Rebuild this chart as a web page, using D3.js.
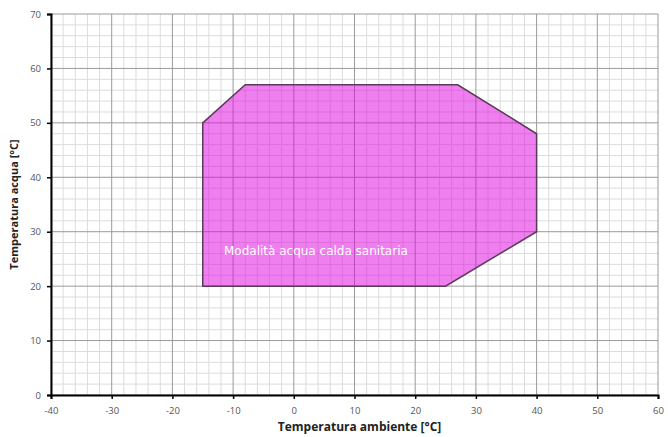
<!DOCTYPE html>
<html>
<head>
<meta charset="utf-8">
<script src="https://cdn.jsdelivr.net/npm/d3@7"></script>
<style>
  body { margin: 0; background: #fff; }
  text { font-family: "Open Sans", "Liberation Sans", Arial, sans-serif; }
</style>
</head>
<body>
<div id="chart"></div>
<script>
// operating envelope (ambient temp, water temp)
const envelopeX = [-15, -15, -8, 27, 40, 40, 25];
const envelopeY = [20, 50, 57, 57, 48, 30, 20];
const areaLabel = "Modalità acqua calda sanitaria";
const labelPos = [-11.5, 26.5];

const xTicks = [-40, -30, -20, -10, 0, 10, 20, 30, 40, 50, 60];
const yTicks = [0, 10, 20, 30, 40, 50, 60, 70];
const xTitle = "Temperatura ambiente [°C]";
const yTitle = "Temperatura acqua [°C]";

const width = 668, height = 437;
const margin = { top: 14, right: 10, bottom: 42, left: 51 };
const w = width - margin.left - margin.right;
const h = height - margin.top - margin.bottom;

const svg = d3.select("#chart").append("svg")
    .attr("width", width)
    .attr("height", height);

const g = svg.append("g")
    .attr("transform", `translate(${margin.left},${margin.top})`);

const x = d3.scaleLinear().domain([-40, 60]).range([0, w]);
const y = d3.scaleLinear().domain([0, 70]).range([h, 0]);

// minor grid every 2 units
const xMinor = d3.range(-40, 61, 2).filter(v => v % 10 !== 0);
const yMinor = d3.range(0, 71, 2).filter(v => v % 10 !== 0);

g.append("g").selectAll("line").data(xMinor).join("line")
    .attr("x1", d => x(d)).attr("x2", d => x(d))
    .attr("y1", 0).attr("y2", h)
    .attr("stroke", "#dcdcdc").attr("stroke-width", 1);
g.append("g").selectAll("line").data(yMinor).join("line")
    .attr("x1", 0).attr("x2", w)
    .attr("y1", d => y(d)).attr("y2", d => y(d))
    .attr("stroke", "#dcdcdc").attr("stroke-width", 1);

// major grid
g.append("g").selectAll("line").data(xTicks).join("line")
    .attr("x1", d => x(d)).attr("x2", d => x(d))
    .attr("y1", 0).attr("y2", h)
    .attr("stroke", "#9a9a9a").attr("stroke-width", 1);
g.append("g").selectAll("line").data(yTicks).join("line")
    .attr("x1", 0).attr("x2", w)
    .attr("y1", d => y(d)).attr("y2", d => y(d))
    .attr("stroke", "#9a9a9a").attr("stroke-width", 1);

// envelope polygon
const pts = envelopeX.map((v, i) => [x(v), y(envelopeY[i])]);
g.append("path")
    .attr("d", d3.line()(pts) + "Z")
    .attr("fill", "#e000e0")
    .attr("fill-opacity", 0.5)
    .attr("stroke", "#5a3a5a")
    .attr("stroke-width", 1.5);

g.append("text")
    .attr("x", x(labelPos[0]))
    .attr("y", y(labelPos[1]))
    .attr("dy", "0.35em")
    .attr("fill", "#fff")
    .attr("font-size", 12)
    .style("font-family", "'DejaVu Sans', Verdana, sans-serif")
    .text(areaLabel);

// axes
const xAxis = g.append("g")
    .attr("transform", `translate(0,${h})`)
    .call(d3.axisBottom(x).tickValues(xTicks).tickSize(4).tickPadding(8).tickFormat(d => String(d)));
const yAxis = g.append("g")
    .call(d3.axisLeft(y).tickValues(yTicks).tickSize(4).tickPadding(6).tickFormat(d => String(d)));

[xAxis, yAxis].forEach(a => {
    a.select(".domain").attr("stroke", "#000").attr("stroke-width", 2);
    a.selectAll(".tick line").attr("stroke", "#000").attr("stroke-width", 1.5);
    a.selectAll(".tick text").attr("fill", "#555").attr("font-size", 9.5)
        .style("font-family", "'Open Sans', sans-serif");
});

// titles
svg.append("text")
    .attr("x", margin.left + w / 2 + 5)
    .attr("y", 431)
    .attr("text-anchor", "middle")
    .attr("font-size", 12)
    .attr("font-weight", "bold")
    .attr("fill", "#222")
    .text(xTitle);

svg.append("text")
    .attr("transform", `translate(18,${margin.top + h / 2}) rotate(-90)`)
    .attr("text-anchor", "middle")
    .attr("font-size", 11)
    .attr("font-weight", "bold")
    .attr("fill", "#222")
    .text(yTitle);
</script>
</body>
</html>
